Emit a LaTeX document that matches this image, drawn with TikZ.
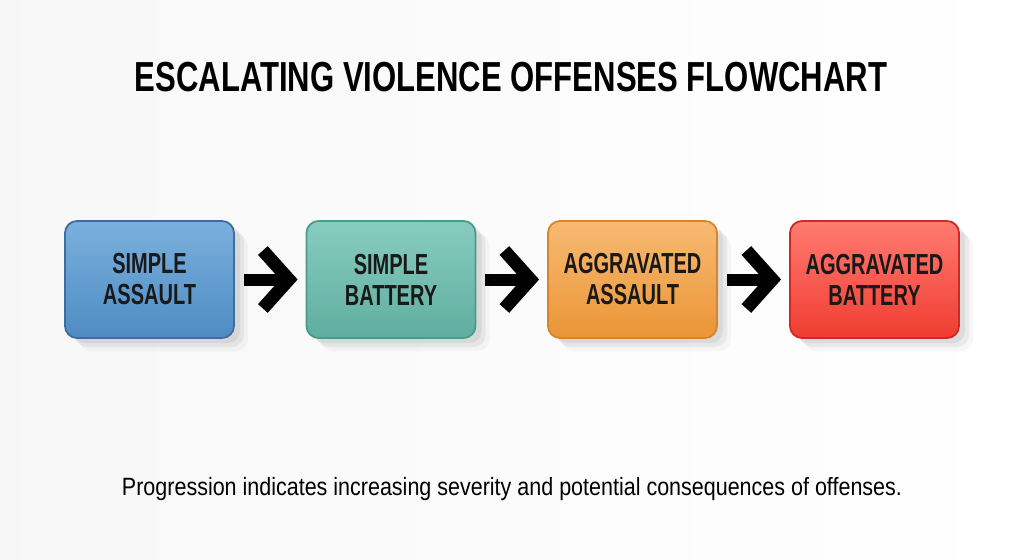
\documentclass[tikz,border=0pt]{standalone}
\usepackage{fontspec}
\setmainfont{Liberation Sans}
\newfontfamily\titlefont[FakeStretch=0.74]{Liberation Sans Bold}
\newfontfamily\boxfont[FakeStretch=0.69]{Liberation Sans Bold}
\newfontfamily\notefont[FakeStretch=0.86]{Liberation Sans}
\usepackage{tikz}
\definecolor{colorSAtop}{HTML}{7AB0DC}
\definecolor{colorSAbot}{HTML}{4F8CC4}
\definecolor{colorSAline}{HTML}{3D6F9E}
\definecolor{colorSBtop}{HTML}{88CCC0}
\definecolor{colorSBbot}{HTML}{5FAE9F}
\definecolor{colorSBline}{HTML}{4C9A8A}
\definecolor{colorAAtop}{HTML}{F7BA72}
\definecolor{colorAAbot}{HTML}{EB9536}
\definecolor{colorAAline}{HTML}{D4862C}
\definecolor{colorABtop}{HTML}{FF7B70}
\definecolor{colorABbot}{HTML}{F03C32}
\definecolor{colorABline}{HTML}{CC2A24}
\usetikzlibrary{arrows.meta}
\usetikzlibrary{shadows}
\tikzset{
   offense/.style={rectangle,rounded corners=12pt,minimum width=169pt,minimum height=117pt,
      line width=1.8pt,align=center,font=\boxfont\fontsize{29}{31}\selectfont,text=black!90,
      drop shadow={shadow xshift=14pt,shadow yshift=-13pt,fill=black,opacity=0.03},
      drop shadow={shadow xshift=10pt,shadow yshift=-9pt,fill=black,opacity=0.05},
      drop shadow={shadow xshift=6pt,shadow yshift=-5pt,fill=black,opacity=0.06}},
   sa/.style={offense,draw=colorSAline,top color=colorSAtop,bottom color=colorSAbot},
   sb/.style={offense,draw=colorSBline,top color=colorSBtop,bottom color=colorSBbot},
   aa/.style={offense,draw=colorAAline,top color=colorAAtop,bottom color=colorAAbot},
   ab/.style={offense,draw=colorABline,top color=colorABtop,bottom color=colorABbot},
   escalate/.style={-{Straight Barb[length=26pt,width=58pt,line width=13pt,line join=miter]},
      line width=12pt,black,shorten <=9pt,shorten >=8pt},
}

\begin{document}
\begin{tikzpicture}[x=1pt,y=-1pt]

        \shade[left color=gray!6,right color=white] (0,0) rectangle (1024,559);
        \useasboundingbox (0,0) rectangle (1024,559);

        \node (title) at (511, 77) {\titlefont\fontsize{42}{46}\selectfont ESCALATING VIOLENCE OFFENSES FLOWCHART};

        \node[sa] (sassault) at (149.5, 279.5) {SIMPLE\\ASSAULT};
        \node[sb] (sbattery) at (391,   279.5) {SIMPLE\\BATTERY};
        \node[aa] (aassault) at (632.5, 279.5) {AGGRAVATED\\ASSAULT};
        \node[ab] (abattery) at (874.5, 279.5) {AGGRAVATED\\BATTERY};

        \draw[escalate] (sassault) -- (sbattery);
        \draw[escalate] (sbattery) -- (aassault);
        \draw[escalate] (aassault) -- (abattery);

        \node (note) at (512, 489) {\notefont\fontsize{25}{28}\selectfont Progression indicates increasing severity and potential consequences of offenses.};

      \end{tikzpicture}
\end{document}
